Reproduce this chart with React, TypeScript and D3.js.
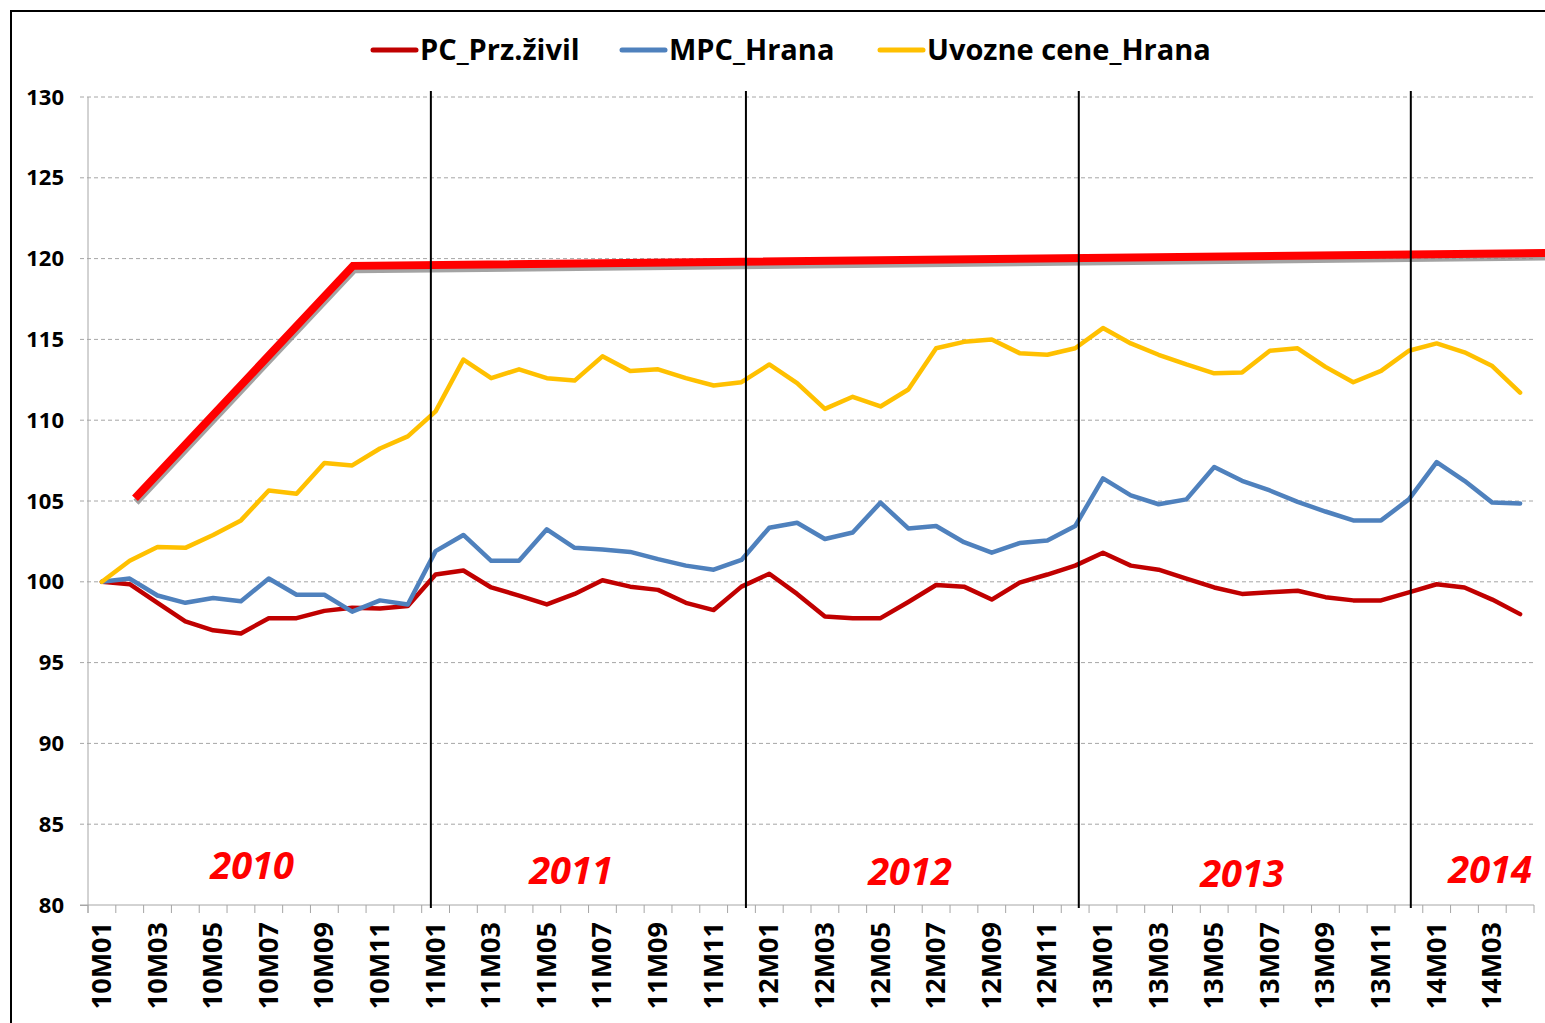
import React, { useEffect, useRef } from 'react';
import * as d3 from 'd3';

// months 10M01 .. 14M04
const months: string[] = [];
for (const yy of ['10', '11', '12', '13', '14']) {
  for (let m = 1; m <= 12; m++) {
    if (yy === '14' && m > 4) break;
    months.push(`${yy}M${String(m).padStart(2, '0')}`);
  }
}

const pcPrzZivil = [
  100.0, 99.85, 98.7, 97.55, 97.0, 96.8, 97.75, 97.75, 98.2, 98.4, 98.35, 98.5,
  100.45, 100.7, 99.65, 99.15, 98.6, 99.25, 100.1, 99.7, 99.5, 98.7, 98.25, 99.7,
  100.5, 99.25, 97.85, 97.75, 97.75, 98.75, 99.8, 99.7, 98.9, 99.95, 100.45, 101.0,
  101.8, 101.0, 100.75, 100.2, 99.65, 99.25, 99.35, 99.45, 99.05, 98.85, 98.85, 99.35,
  99.85, 99.65, 98.9, 98.0,
];

const mpcHrana = [
  100.0, 100.2, 99.15, 98.7, 99.0, 98.8, 100.2, 99.2, 99.2, 98.15, 98.85, 98.6,
  101.9, 102.9, 101.3, 101.3, 103.25, 102.1, 102.0, 101.85, 101.4, 101.0, 100.75, 101.35,
  103.35, 103.65, 102.65, 103.05, 104.9, 103.3, 103.45, 102.45, 101.8, 102.4, 102.55, 103.45,
  106.4, 105.35, 104.8, 105.1, 107.1, 106.25, 105.65, 104.95, 104.35, 103.8, 103.8, 105.1,
  107.4, 106.25, 104.9, 104.85,
];

const uvozneCeneHrana = [
  100.0, 101.3, 102.15, 102.1, 102.9, 103.8, 105.65, 105.45, 107.35, 107.2, 108.25, 109.0,
  110.55, 113.75, 112.6, 113.15, 112.6, 112.45, 113.95, 113.05, 113.15, 112.6, 112.15, 112.35,
  113.45, 112.3, 110.7, 111.45, 110.85, 111.9, 114.45, 114.85, 115.0, 114.15, 114.05, 114.45,
  115.7, 114.75, 114.05, 113.45, 112.9, 112.95, 114.3, 114.45, 113.3, 112.35, 113.05, 114.3,
  114.75, 114.2, 113.35, 111.7,
];

const seriesNames = ['PC_Prz.živil', 'MPC_Hrana', 'Uvozne cene_Hrana'];
const seriesColors = ['#C00000', '#4F81BD', '#FFC000'];
const seriesValues = [pcPrzZivil, mpcHrana, uvozneCeneHrana];

const yTicks = [80, 85, 90, 95, 100, 105, 110, 115, 120, 125, 130];

// hand-drawn red trend arrow (month index, value)
const trendIdx = [1.19, 9.03, 51.9];
const trendVal = [105.17, 119.55, 120.35];

// year separators (month index where the black line sits)
const dividerIdx = [11.83, 23.16, 35.13, 47.07];

const yearLabels = ['2010', '2011', '2012', '2013', '2014'];
const yearLabelIdx = [5.4, 16.87, 29.06, 41.0, 49.92];
const yearLabelVal = [81.6, 81.3, 81.22, 81.1, 81.35];

const FONT = '"Open Sans", Carlito, Calibri, sans-serif';

const App = () => {
  const svgRef = useRef<SVGSVGElement | null>(null);

  useEffect(() => {
    const width = 1545;
    const height = 1023;
    const left = 88, right = 1534, top = 97, bottom = 905;

    const svg = d3.select(svgRef.current);
    svg.selectAll('*').remove();
    svg.attr('width', width).attr('height', height);

    svg.append('rect').attr('width', width).attr('height', height).attr('fill', '#fff');

    // outer frame (open at the right/bottom edges of the picture)
    svg.append('rect')
      .attr('x', 11).attr('y', 11)
      .attr('width', width + 20).attr('height', height + 20)
      .attr('fill', 'none').attr('stroke', '#000').attr('stroke-width', 2);

    const x = d3.scaleLinear().domain([-0.5, months.length - 0.5]).range([left, right]);
    const y = d3.scaleLinear().domain([80, 130]).range([bottom, top]);

    // grid
    svg.append('g').selectAll('line')
      .data(yTicks.filter(t => t > 80))
      .enter().append('line')
      .attr('x1', left - 8).attr('x2', right)
      .attr('y1', d => y(d)).attr('y2', d => y(d))
      .attr('stroke', '#A6A6A6').attr('stroke-width', 1)
      .attr('stroke-dasharray', '4,3');

    // y axis
    const yAxis = svg.append('g')
      .attr('transform', `translate(${left},0)`)
      .call(d3.axisLeft(y).tickValues(yTicks).tickSize(8).tickPadding(16).tickFormat(d3.format('d')));
    yAxis.selectAll('path, line').attr('stroke', '#A6A6A6');
    yAxis.select('.domain').attr('d', `M0,${top}V${bottom + 8}`);
    yAxis.selectAll('.tick line').filter((d: any) => d !== 80).remove();
    yAxis.selectAll('text')
      .attr('fill', '#000').attr('font-family', FONT)
      .attr('font-size', 22).attr('font-weight', 'bold');

    // x axis
    const xg = svg.append('g').attr('transform', `translate(0,${bottom})`);
    xg.append('line').attr('x1', left - 8).attr('x2', right).attr('stroke', '#A6A6A6');
    xg.selectAll('.tk')
      .data(d3.range(months.length + 1))
      .enter().append('line')
      .attr('x1', i => x(i - 0.5)).attr('x2', i => x(i - 0.5))
      .attr('y1', 0).attr('y2', 8)
      .attr('stroke', '#A6A6A6');
    xg.selectAll('.lbl')
      .data(months.filter((_, i) => i % 2 === 0))
      .enter().append('text')
      .attr('transform', d => `translate(${x(months.indexOf(d)) + 9},17) rotate(-90)`)
      .attr('text-anchor', 'end')
      .attr('font-family', FONT).attr('font-size', 27).attr('font-weight', 'bold')
      .text(d => d);

    // series
    const line = d3.line<number>().x((_, i) => x(i)).y(d => y(d));
    seriesValues.forEach((vals, k) => {
      svg.append('path')
        .datum(vals)
        .attr('d', line)
        .attr('fill', 'none')
        .attr('stroke', seriesColors[k])
        .attr('stroke-width', 4.5)
        .attr('stroke-linejoin', 'round')
        .attr('stroke-linecap', 'round');
    });

    // trend arrow with shadow
    const trend = d3.line<number>().x(d => x(d)).y((_, i) => y(trendVal[i]));
    svg.append('path').datum(trendIdx).attr('d', trend)
      .attr('transform', 'translate(1,4)')
      .attr('fill', 'none').attr('stroke', '#8c8c8c').attr('stroke-width', 7).attr('opacity', 0.8);
    svg.append('path').datum(trendIdx).attr('d', trend)
      .attr('fill', 'none').attr('stroke', '#FF0000').attr('stroke-width', 8);

    // year dividers
    svg.append('g').selectAll('line')
      .data(dividerIdx).enter().append('line')
      .attr('x1', d => x(d)).attr('x2', d => x(d))
      .attr('y1', top - 6).attr('y2', bottom + 3)
      .attr('stroke', '#000').attr('stroke-width', 2);

    // year labels
    svg.append('g').selectAll('text')
      .data(yearLabels).enter().append('text')
      .attr('x', (_, i) => x(yearLabelIdx[i]))
      .attr('y', (_, i) => y(yearLabelVal[i]))
      .attr('text-anchor', 'middle')
      .attr('font-family', FONT).attr('font-size', 38)
      .attr('font-weight', 'bold').attr('font-style', 'italic')
      .attr('fill', '#FF0000')
      .text(d => d);

    // legend
    const legendX = [373, 622, 880];
    const lg = svg.append('g');
    seriesNames.forEach((name, k) => {
      lg.append('line')
        .attr('x1', legendX[k]).attr('x2', legendX[k] + 43)
        .attr('y1', 50).attr('y2', 50)
        .attr('stroke', seriesColors[k]).attr('stroke-width', 5)
        .attr('stroke-linecap', 'round');
      lg.append('text')
        .attr('x', legendX[k] + 47).attr('y', 60)
        .attr('font-family', FONT).attr('font-size', 29).attr('font-weight', 'bold')
        .text(name);
    });
  }, []);

  return (
    <svg ref={svgRef} style={{ position: 'absolute', left: 0, top: 0, display: 'block' }} />
  );
};

export default App;
